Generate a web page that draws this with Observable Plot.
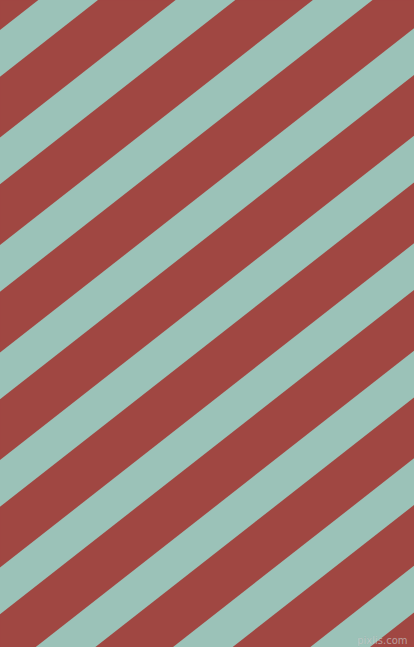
<!DOCTYPE html>
<html>
<head>
<meta charset="utf-8">
<script src="https://cdn.jsdelivr.net/npm/d3@7"></script>
<script src="https://cdn.jsdelivr.net/npm/@observablehq/plot@0.6"></script>
<style>
  html, body { margin: 0; padding: 0; background: #A04742; overflow: hidden; }
  #chart svg { display: block; }
</style>
</head>
<body>
<div id="chart"></div>
<script>
// Stripe geometry (pixel units, y downward)
const stripeTops = [-77.5, 30, 137.5, 245, 352.5, 460, 567.5, 675, 782.5, 890, 997.5]; // top edge of each teal stripe at x = 0
const stripeHeight = 46.7;   // vertical thickness of a teal stripe
const slope = 0.783;         // rise per unit x (stripes go up to the right)
const xEnds = [0, 414];
const red = "#A04742";
const teal = "#9BC2B8";
const watermark = ["pixlis.com"];

const rows = [];
stripeTops.forEach((top, i) => {
  xEnds.forEach(x => {
    rows.push({stripe: i, x, y1: top - slope * x, y2: top + stripeHeight - slope * x});
  });
});

const chart = Plot.plot({
  width: 414,
  height: 647,
  margin: 0,
  x: {domain: [0, 414], axis: null},
  y: {domain: [0, 647], reverse: true, axis: null},
  style: {background: red, overflow: "hidden"},
  marks: [
    Plot.frame({fill: red, stroke: null}),
    Plot.areaY(rows, {x: "x", y1: "y1", y2: "y2", z: "stripe", fill: teal, clip: true}),
    Plot.text(watermark, {frameAnchor: "bottom-right", dx: -7, dy: -4, fontSize: 10, fontFamily: "DejaVu Sans", fill: "#d8d8d8", fillOpacity: 0.55, stroke: "#888", strokeOpacity: 0.25, strokeWidth: 0.5})
  ]
});
document.getElementById("chart").appendChild(chart);
</script>
</body>
</html>
